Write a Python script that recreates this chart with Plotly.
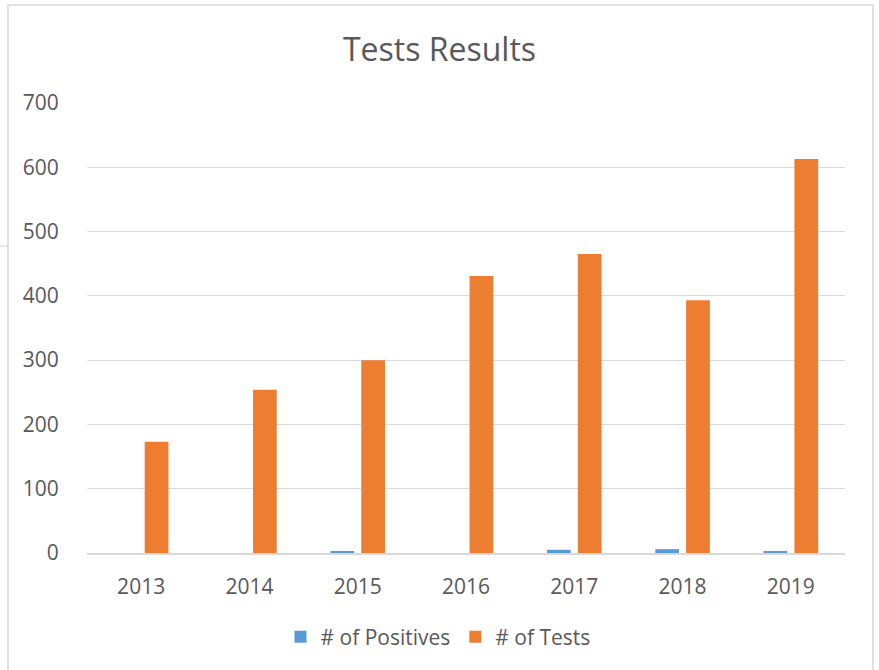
import plotly.graph_objects as go

years = ["2013", "2014", "2015", "2016", "2017", "2018", "2019"]
positives = [0, 0, 3, 0, 5, 6, 2]
tests = [173, 254, 300, 431, 465, 393, 613]
y_ticks = [0, 100, 200, 300, 400, 500, 600, 700]

W, H = 879, 670
L, R, T, B = 87, 34, 103, 117
PW, PH = W - L - R, H - T - B

def px(x):
    return (x - L) / PW

def py(y):
    return (H - B - y) / PH

font_family = "Open Sans, Liberation Sans, sans-serif"
txt = "#595959"

fig = go.Figure()
fig.add_trace(go.Bar(x=years, y=positives, name="# of Positives", marker_color="#5B9BD5",
                     marker_line_width=0))
fig.add_trace(go.Bar(x=years, y=tests, name="# of Tests", marker_color="#ED7D31",
                     marker_line_width=0))

fig.update_layout(
    width=W, height=H,
    margin=dict(l=L, r=R, t=T, b=B),
    paper_bgcolor="white", plot_bgcolor="white",
    barmode="group", bargap=0.43, bargroupgap=0.23,
    font=dict(family=font_family, color=txt),
    title=dict(text="Tests Results", x=0.5, xanchor="center", y=1 - 50 / H, yanchor="middle",
               font=dict(size=32, color=txt)),
    legend=dict(orientation="h", x=px(447 - 9), xanchor="center", y=py(637), yanchor="middle",
                font=dict(size=21, color=txt), itemwidth=30, traceorder="normal"),
    xaxis=dict(showgrid=False, showline=True, linecolor="#D9D9D9", linewidth=1.5,
               tickfont=dict(size=21, color=txt), ticks="outside", ticklen=14, tickcolor="rgba(0,0,0,0)"),
    yaxis=dict(range=[0, 700], tickvals=y_ticks, showgrid=True, gridcolor="#D9D9D9", gridwidth=1,
               zeroline=False, showline=False, tickfont=dict(size=21, color=txt),
               ticks="outside", ticklen=23, tickcolor="rgba(0,0,0,0)"),
)

fig.add_shape(type="rect", xref="paper", yref="paper",
              x0=px(8), x1=px(873), y0=py(5), y1=py(700),
              line=dict(color="#D9D9D9", width=1.5), fillcolor="rgba(0,0,0,0)", layer="below")
fig.add_shape(type="line", xref="paper", yref="paper",
              x0=px(0), x1=px(8), y0=py(246), y1=py(246),
              line=dict(color="#BDD7EE", width=1))

fig.write_html("out.html", config={"displayModeBar": False},
               post_script="document.body.style.margin='0';document.body.style.overflow='hidden';")
